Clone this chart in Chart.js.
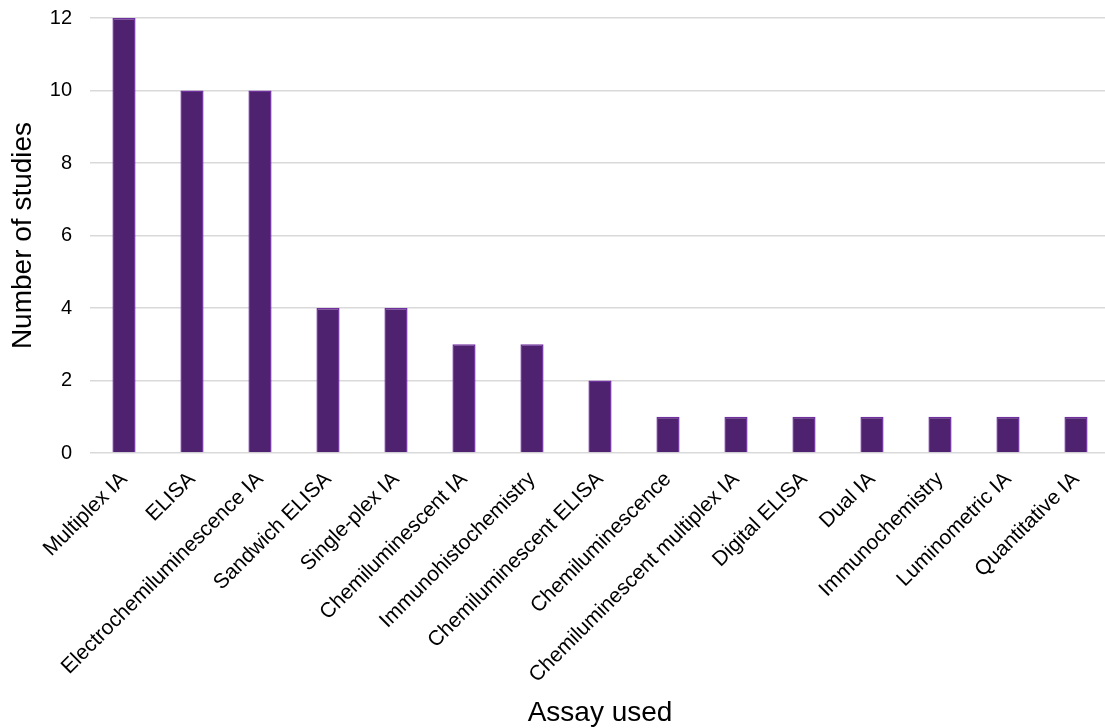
<!DOCTYPE html>
<html>
<head>
<meta charset="utf-8">
<script src="https://cdn.jsdelivr.net/npm/chart.js@4/dist/chart.umd.min.js"></script>
<style>
  html, body { margin:0; padding:0; background:#fff; overflow:hidden; }
  #wrap { position:relative; width:1110px; height:728px; }
</style>
</head>
<body>
<div id="wrap"><canvas id="chartAssays"></canvas></div>
<script>
// ── DATA ──────────────────────────────────────────────
var assays = [
  'Multiplex IA','ELISA','Electrochemiluminescence IA','Sandwich ELISA','Single-plex IA',
  'Chemiluminescent IA','Immunohistochemistry','Chemiluminescent ELISA','Chemiluminescence',
  'Chemiluminescent multiplex IA','Digital ELISA','Dual IA','Immunochemistry',
  'Luminometric IA','Quantitative IA'
];
var studies = [12, 10, 10, 4, 4, 3, 3, 2, 1, 1, 1, 1, 1, 1, 1];
var yMin = 0, yMax = 12, yStep = 2;

var FONT = '"Liberation Sans", Arial, sans-serif';
var TEXT = '#000000';
var GRID = '#d9d9d9';

new Chart(document.getElementById('chartAssays'), {
  type:'bar',
  data:{
    labels:assays,
    datasets:[{
      label:'Number of studies',
      data:studies,
      backgroundColor:'#4f2270',
      borderColor:'#7030a0',
      borderWidth:1.5,
      categoryPercentage:1,
      barPercentage:0.34
    }]
  },
  options:{
    responsive:true, maintainAspectRatio:false, animation:false,
    layout:{ padding:{ top:18, right:0, bottom:0, left:0 } },
    plugins:{ legend:{ display:false }, tooltip:{ enabled:false } },
    scales:{
      x:{
        grid:{ display:false },
        border:{ display:false },
        ticks:{ color:TEXT, font:{ family:FONT, size:21 }, minRotation:45, maxRotation:45, padding:6, autoSkip:false },
        title:{ display:true, text:'Assay used', color:TEXT, font:{ family:FONT, size:28, lineHeight:1 }, padding:{ top:0, bottom:1 } },
        afterFit:function(s){ s.height = 275; }
      },
      y:{
        min:yMin, max:yMax,
        grid:{ color:GRID, lineWidth:1.5, drawTicks:false },
        border:{ display:false },
        ticks:{ stepSize:yStep, color:TEXT, font:{ family:FONT, size:20 }, padding:18 },
        title:{ display:true, text:'Number of studies', color:TEXT, font:{ family:FONT, size:28, lineHeight:1 }, padding:{ top:9, bottom:0 } },
        // fixed axis width; drop the label overhang so the plot top sits at the layout padding
        afterFit:function(s){ s.width = 90; s.paddingTop = 0; s.paddingBottom = 0; }
      }
    }
  }
});
</script>
</body>
</html>
